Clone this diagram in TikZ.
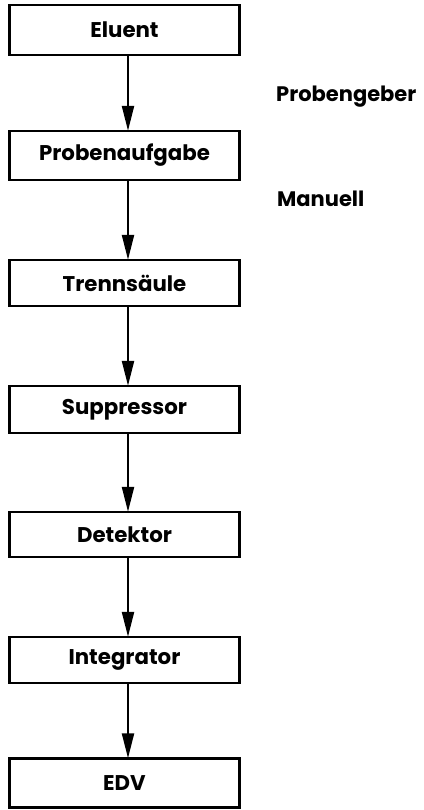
\documentclass[tikz,border=0pt]{standalone}
\usepackage{fontspec}
\setmainfont{Poppins}
\usetikzlibrary{arrows.meta}
\begin{document}
\begin{tikzpicture}[x=1pt,y=1pt,
  box/.style={draw, line width=2.4pt, minimum width=230pt, minimum height=#1, inner sep=0pt,
    font=\fontsize{21.3}{24}\selectfont\bfseries},
  box/.default=47pt,
  flow/.style={line width=2.2pt, -{Triangle[length=25pt,width=12pt]}, shorten >=-1pt},
  side/.style={anchor=base west, inner sep=0pt, font=\fontsize{21}{24}\selectfont\bfseries}]
\useasboundingbox (0,0) rectangle (423,-810);
\node[box=50pt] (elu) at (124.5,-30) {Eluent};
\node[box=49pt] (pro) at (124.5,-155.5) {Probenaufgabe};
\node[box=46pt] (tre) at (124.5,-283) {Trennsäule};
\node[box=47pt] (sup) at (124.5,-409.5) {Suppressor};
\node[box=45pt] (det) at (124.5,-534.5) {Detektor};
\node[box=46pt] (int) at (124.5,-660) {Integrator};
\node[box=49pt] (edv) at (124.5,-783) {EDV};
\node[side] (pg) at (276,-102) {Probengeber};
\node[side] (ma) at (277,-207) {Manuell};
\foreach \a/\b in {elu/pro,pro/tre,tre/sup,sup/det,det/int,int/edv}
  \draw[flow] ([xshift=3.5pt]\a.south) -- ([xshift=3.5pt]\b.north);
\end{tikzpicture}
\end{document}
